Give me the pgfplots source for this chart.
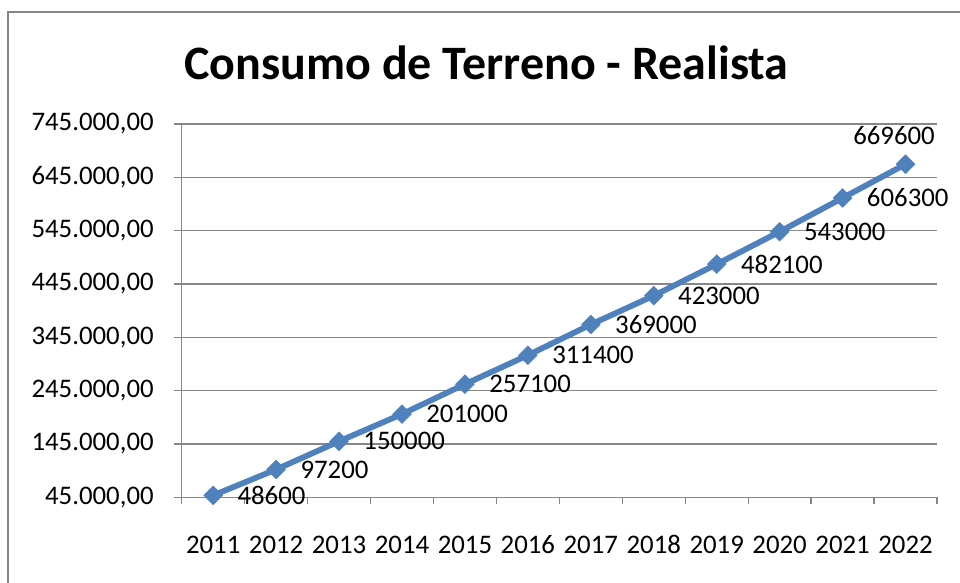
\documentclass[border=0pt]{standalone}
\usepackage{fontspec}
\setmainfont{Carlito}
\usepackage{pgfplots}
\pgfplotsset{compat=1.18}
\definecolor{serblue}{HTML}{4F81BD}
\definecolor{gridgray}{HTML}{868686}
\newcommand{\lblfont}{\fontsize{13.4bp}{16bp}\selectfont}
\begin{document}
\begin{tikzpicture}
\draw[gridgray, line width=0.6bp] (4bp,-2bp) -- (4bp,285.5bp) -- (482bp,285.5bp);
\node[anchor=base, font=\fontsize{24bp}{28bp}\selectfont\bfseries, inner sep=0] at (243.25bp,251.5bp) {Consumo de Terreno - Realista};
\begin{axis}[
  at={(90.85bp,42.85bp)}, anchor=south west,
  scale only axis, width=377.65bp, height=186.65bp,
  xmin=-0.5, xmax=11.5, ymin=45000, ymax=745000,
  axis x line*=bottom, axis y line*=left,
  axis line style={gridgray, line width=0.65bp, -},
  xtick={0,...,11},
  xticklabels={2011,2012,2013,2014,2015,2016,2017,2018,2019,2020,2021,2022},
  minor xtick={-0.5,0.5,...,11.5},
  major x tick style={draw=none},
  minor x tick style={gridgray, line width=0.65bp},
  minor tick length=3.5bp,
  ytick={45000,145000,...,745000},
  y tick style={gridgray, line width=0.65bp},
  major tick length=4bp,
  tick align=outside,
  ymajorgrids, grid style={gridgray, line width=0.65bp},
  scaled y ticks=false,
  yticklabel style={/pgf/number format/fixed, /pgf/number format/fixed zerofill, /pgf/number format/precision=2, /pgf/number format/use comma, /pgf/number format/1000 sep={.}, /pgf/number format/assume math mode=true, xshift=-6.5bp},
  ticklabel style={font=\lblfont},
  xticklabel style={text height=8.6bp, text depth=0pt, yshift=-12bp},
  clip=false,
]
\addplot[serblue, line width=2.9bp, mark=square*, mark size=3.3bp,
  mark options={rotate=45, fill=serblue, draw=serblue, line width=0.3bp}]
  coordinates {(0,48600) (1,97200) (2,150000) (3,201000) (4,257100) (5,311400)
  (6,369000) (7,423000) (8,482100) (9,543000) (10,606300) (11,669600)};
\addplot[draw=none, mark=none, point meta=explicit symbolic,
  nodes near coords={\lblfont\pgfplotspointmeta},
  nodes near coords style={anchor=west, inner sep=0pt, xshift=12bp, text=black}]
  coordinates {(0,48600)[48600] (1,97200)[97200] (2,150000)[150000] (3,201000)[201000]
  (4,257100)[257100] (5,311400)[311400] (6,369000)[369000] (7,423000)[423000]
  (8,482100)[482100] (9,543000)[543000] (10,606300)[606300]};
\addplot[draw=none, mark=none, point meta=explicit symbolic,
  nodes near coords={\lblfont\pgfplotspointmeta},
  nodes near coords style={anchor=south, inner sep=0pt, xshift=-5.75bp, yshift=9.5bp, text=black}]
  coordinates {(11,669600)[669600]};
\end{axis}
\pgfresetboundingbox
\useasboundingbox (0,0) rectangle (480bp,291.5bp);
\end{tikzpicture}
\end{document}
